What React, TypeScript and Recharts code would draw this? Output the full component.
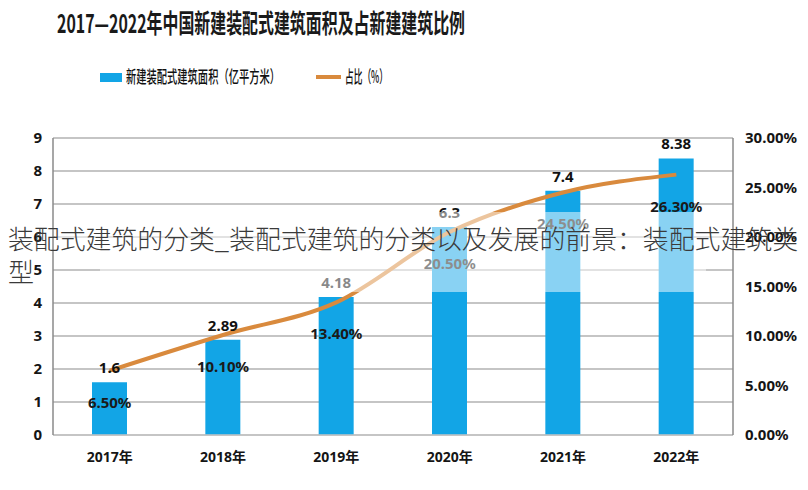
import React from 'react';
import { ComposedChart, Bar, Line, XAxis, YAxis, CartesianGrid, LabelList } from 'recharts';

const years = ['2017年', '2018年', '2019年', '2020年', '2021年', '2022年'];
const areaValues = [1.6, 2.89, 4.18, 6.3, 7.4, 8.38];
const ratioValues = [6.5, 10.1, 13.4, 20.5, 24.5, 26.3];
const leftTicks = [0, 1, 2, 3, 4, 5, 6, 7, 8, 9];
const rightTicks = [0, 5, 10, 15, 20, 25, 30];

const titleText = '2017—2022年中国新建装配式建筑面积及占新建建筑比例';
const legendBarText = '新建装配式建筑面积（亿平方米）';
const legendLineText = '占比（%）';
const watermarkLine1 = '装配式建筑的分类_装配式建筑的分类以及发展的前景：装配式建筑类';
const watermarkLine2 = '型';

const data = years.map((y, i) => ({ year: y, area: areaValues[i], ratio: ratioValues[i] }));

const FONT = "'Noto Sans', 'Noto Sans CJK SC', sans-serif";
const CJK = "'Noto Sans CJK SC', 'Noto Sans', sans-serif";
const BAR_COLOR = '#12A5E6';
const LINE_COLOR = '#D98A3D';

const PctLabel = (props: any) => {
  const { x, y, value } = props;
  if (x == null || y == null) return null;
  return (
    <text
      x={x}
      y={y + 31}
      textAnchor="middle"
      dominantBaseline="central"
      fontFamily={FONT}
      fontSize={15}
      fontWeight={700}
      fill="#1a1a1a"
    >
      {Number(value).toFixed(2) + '%'}
    </text>
  );
};

export default function App() {
  return (
    <div style={{ position: 'absolute', left: 0, top: 0, width: 808, height: 490, background: '#fff', fontFamily: FONT }}>
      <ComposedChart width={808} height={490} data={data} margin={{ top: 138, right: 0, bottom: 25, left: 0 }}>
        <CartesianGrid yAxisId="left" horizontal vertical={false} stroke="#8c8c8c" strokeWidth={1.2} />
        <XAxis
          dataKey="year"
          height={30}
          axisLine={{ stroke: '#c4c4c4', strokeWidth: 1.5 }}
          tickLine={false}
          tickSize={0}
          tickMargin={17}
          tick={{ fontSize: 14, fontWeight: 700, fill: '#151515', fontFamily: FONT }}
        />
        <YAxis
          yAxisId="left"
          width={53}
          domain={[0, 9]}
          ticks={leftTicks}
          interval={0}
          axisLine={{ stroke: '#8a8a8a', strokeWidth: 1.5 }}
          tickLine={false}
          tickSize={0}
          tickMargin={11}
          tick={{ fontSize: 15, fontWeight: 700, fill: '#151515', fontFamily: FONT }}
        />
        <YAxis
          yAxisId="right"
          orientation="right"
          width={75}
          domain={[0, 30]}
          ticks={rightTicks}
          interval={0}
          tickFormatter={(v: number) => v.toFixed(2) + '%'}
          axisLine={{ stroke: '#8a8a8a', strokeWidth: 1.5 }}
          tickLine={false}
          tickSize={0}
          tickMargin={12}
          tick={{ fontSize: 15, fontWeight: 700, fill: '#151515', fontFamily: FONT, textAnchor: 'start' }}
        />
        <Bar yAxisId="left" dataKey="area" fill={BAR_COLOR} barSize={35} isAnimationActive={false}>
          <LabelList
            dataKey="area"
            position="top"
            offset={9}
            style={{ fontSize: 15, fontWeight: 700, fill: '#111', fontFamily: FONT }}
          />
        </Bar>
        <Line
          yAxisId="right"
          dataKey="ratio"
          type="monotone"
          stroke={LINE_COLOR}
          strokeWidth={4}
          dot={false}
          activeDot={false}
          isAnimationActive={false}
        >
          <LabelList dataKey="ratio" content={PctLabel} />
        </Line>
      </ComposedChart>
      <svg
        width={808}
        height={490}
        style={{ position: 'absolute', left: 0, top: 0, pointerEvents: 'none' }}
      >
        <text
          x={57}
          y={33}
          textLength={408}
          lengthAdjust="spacingAndGlyphs"
          fontFamily={CJK}
          fontSize={26}
          fontWeight={700}
          fill="#1a1a1a"
        >
          {titleText}
        </text>
        <rect x={100} y={73} width={22} height={9} fill={BAR_COLOR} />
        <text
          x={126}
          y={83}
          textLength={154}
          lengthAdjust="spacingAndGlyphs"
          fontFamily={CJK}
          fontSize={17}
          fontWeight={500}
          fill="#111"
        >
          {legendBarText}
        </text>
        <line x1={316} y1={77} x2={341} y2={77} stroke={LINE_COLOR} strokeWidth={4} />
        <text
          x={345}
          y={83}
          textLength={43}
          lengthAdjust="spacingAndGlyphs"
          fontFamily={CJK}
          fontSize={17}
          fontWeight={500}
          fill="#111"
        >
          {legendLineText}
        </text>
        <rect x={55} y={212} width={676} height={46} fill="#fff" fillOpacity={0.5} />
        <rect x={100} y={258} width={606} height={34} fill="#fff" fillOpacity={0.5} />
        <text
          x={8}
          y={249}
          textLength={790}
          lengthAdjust="spacingAndGlyphs"
          fontFamily={CJK}
          fontSize={26}
          fontWeight={300}
          fill="#3a3a3a"
        >
          {watermarkLine1}
        </text>
        <text x={8} y={282} fontFamily={CJK} fontSize={26} fontWeight={300} fill="#3a3a3a">
          {watermarkLine2}
        </text>
      </svg>
    </div>
  );
}
